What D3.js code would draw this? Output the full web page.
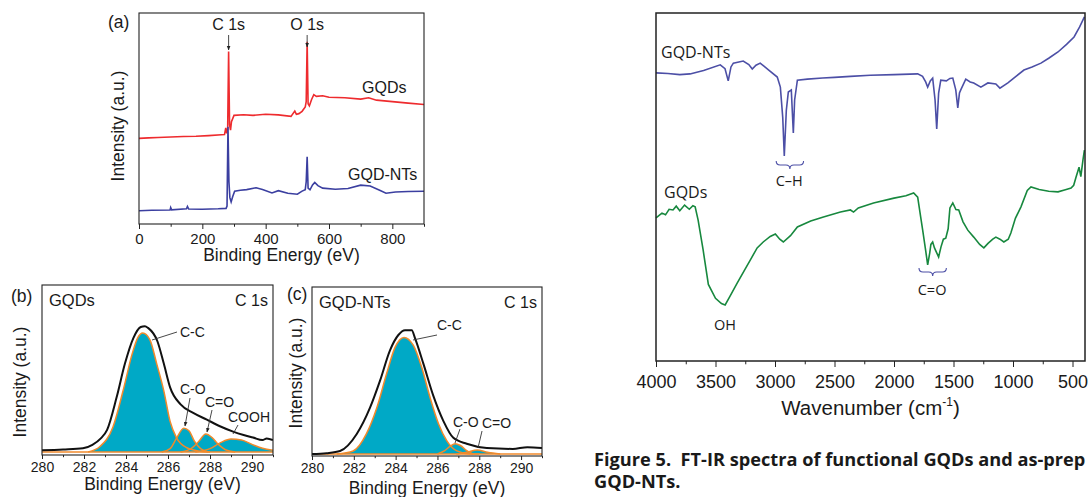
<!DOCTYPE html>
<html>
<head>
<meta charset="utf-8">
<script src="https://cdn.jsdelivr.net/npm/d3@7"></script>
<style>
  body { margin: 0; background: #fff; }
  svg { display: block; }
  text { font-family: "Liberation Sans", Arial, sans-serif; fill: #1a1a1a; }
</style>
</head>
<body>
<svg id="fig" width="1088" height="497"></svg>
<script>
// ---- (a) XPS survey, [binding energy eV, intensity a.u.]
const surveyGQDs = [
  [0,40.6],[30,40.8],[60,41.0],[100,41.2],[140,41.5],[180,41.6],[220,41.9],[260,42.3],[270,42.4],
  [274,45.5],[277,43],[280,45],[283,81.7],[286,47],[289,44.5],[292,48.5],[300,51.5],[330,51.8],
  [360,51.5],[400,52],[440,51.7],[480,51],[492,53.5],[497,52],[505,52.3],[515,53.4],[525,55.5],
  [528,58],[531,86.4],[534,57],[538,56],[545,59],[552,61.3],[560,60.5],[580,60.8],[600,60.1],
  [650,59.8],[700,59.2],[725,59.8],[750,58.7],[800,58],[850,57.3],[900,56.6]
];
const surveyNTs = [
  [0,6.3],[40,6.5],[98,6.6],[100,7.8],[103,6.7],[150,7.2],[153,8.3],[157,7.1],[200,7.0],[250,7.2],
  [275,7.4],[278,8.5],[281,46.1],[284,20],[287,12.5],[291,10.5],[296,13],[302,15.5],[320,16],
  [340,16.3],[370,17.2],[390,16.4],[420,14.7],[440,15.8],[470,14.6],[500,14.1],[515,15.6],
  [525,16.3],[528,20],[531,31.9],[534,17],[540,16.2],[548,18.5],[555,19.7],[565,18.2],[580,17],
  [620,16.5],[660,16.8],[700,18.4],[730,18],[760,16],[780,14.6],[810,15.2],[850,15.4],[900,15.5]
];
const surveyTicks = [0, 200, 400, 600, 800];
const surveyMinor = [100, 300, 500, 700, 900];

// ---- (b) C 1s of GQDs
const gqdEnvelope = [
  [280,0.01],[281,0.015],[281.95,0.022],[282.4,0.042],[282.8,0.08],[283.1,0.13],[283.55,0.32],
  [283.95,0.52],[284.35,0.67],[284.7,0.735],[284.9,0.74],[285.05,0.73],[285.5,0.65],[285.8,0.52],
  [286.1,0.38],[286.6,0.28],[287.2,0.23],[287.85,0.19],[288.5,0.15],[289.1,0.12],[289.6,0.1],
  [290.05,0.085],[290.5,0.07],[290.7,0.08],[291,0.07]
];
const gqdCC = [
  [282.2,0],[282.76,0.032],[283.38,0.147],[283.86,0.36],[284.3,0.58],[284.55,0.67],[284.8,0.70],
  [285.14,0.66],[285.46,0.52],[285.8,0.36],[286.1,0.18],[286.4,0.085],[286.9,0.025],[287.5,0.005],[288,0]
];
const gqdCO = [[285.7,0],[286.1,0.02],[286.4,0.08],[286.75,0.14],[287.0,0.125],[287.25,0.065],[287.55,0.02],[287.9,0]];
const gqdCdO = [[286.6,0],[287.1,0.02],[287.45,0.06],[287.8,0.106],[288.1,0.085],[288.4,0.045],[288.8,0.01],[289.2,0]];
const gqdCOOH = [[287.3,0],[288.0,0.02],[288.5,0.055],[289.0,0.076],[289.5,0.07],[290.0,0.045],[290.5,0.022],[291,0.01]];

// ---- (c) C 1s of GQD-NTs
const ntEnvelope = [
  [280,0],[280.7,0.005],[281.34,0.018],[282.14,0.118],[282.78,0.274],[283.25,0.43],[283.73,0.61],
  [284.13,0.70],[284.45,0.728],[284.77,0.728],[284.93,0.68],[285.33,0.53],[285.8,0.343],[286.28,0.195],
  [286.76,0.095],[287.4,0.06],[288.36,0.035],[289.6,0.03],[290.3,0.04],[291,0.035]
];
const ntCC = [
  [281.18,0],[281.97,0.018],[282.6,0.118],[283.1,0.272],[283.57,0.473],[283.97,0.627],[284.4,0.686],
  [284.85,0.639],[285.25,0.509],[285.65,0.331],[286.05,0.178],[286.45,0.077],[286.93,0.018],[287.57,0],[288,0]
];
const ntCO = [[286.0,0],[286.35,0.02],[286.6,0.045],[286.85,0.061],[287.1,0.05],[287.4,0.02],[287.7,0]];
const ntCdO = [[286.9,0],[287.4,0.01],[287.9,0.024],[288.4,0.01],[289.0,0]];
const c1sTicks = [280, 282, 284, 286, 288, 290];
const c1sMinor = [281, 283, 285, 287, 289, 291];

// ---- FT-IR, [wavenumber cm-1, transmittance a.u.]
const irNTs = [
  [4000,82.8],[3900,82.6],[3800,82.3],[3714,82.5],[3600,83.5],[3460,85.1],[3420,84],[3393,80.5],
  [3370,84.5],[3350,85.6],[3267,86.2],[3220,85.2],[3191,83.9],[3160,85],[3124,85.6],[3050,83.5],
  [2981,81.6],[2955,78.7],[2935,70],[2922,58.9],[2905,72],[2888,77.3],[2863,77.9],[2855,72],
  [2846,65.5],[2835,75],[2812,80.7],[2728,81],[2600,81.3],[2500,81.5],[2366,81.8],[2200,82.1],
  [2000,82.3],[1801,82.5],[1760,81.8],[1734,80.2],[1717,78.7],[1695,80.5],[1675,81.3],[1655,75],
  [1641,66.7],[1625,77],[1607,80.7],[1560,80.5],[1530,81.2],[1506,81.3],[1481,77.9],[1464,72.7],
  [1450,77],[1439,77.9],[1397,81],[1360,80.2],[1330,79.9],[1270,78.7],[1211,79.9],[1144,79.6],
  [1110,78.4],[1043,79.9],[975,81.8],[908,83.6],[840,84.5],[765,85.6],[700,87],[622,88.8],
  [550,91],[487,93.1],[440,96],[412,98],[400,98.9]
];
const irGQDs = [
  [4000,41.1],[3950,42.5],[3920,42],[3890,43.6],[3857,43.4],[3830,44.5],[3800,43.2],[3760,44.8],
  [3720,43.6],[3690,44.6],[3671,44.3],[3646,40.5],[3604,31.9],[3560,22],[3500,18],[3450,16.5],
  [3419,16.1],[3380,18.5],[3318,22.4],[3250,26.5],[3208,29],[3150,32.5],[3099,34.2],[3040,35.8],
  [2997,36.5],[2960,35],[2930,34.2],[2870,36],[2812,38.5],[2700,40.2],[2593,41.4],[2450,42.8],
  [2366,43.4],[2340,42.8],[2300,44],[2172,45.4],[2000,46.8],[1900,47.5],[1835,48.3],[1801,47.1],
  [1776,41.4],[1759,37.6],[1735,32],[1717,27.6],[1700,31],[1690,33.5],[1675,34.2],[1660,32.5],
  [1640,31],[1625,29.9],[1605,32.8],[1585,35],[1565,35.3],[1545,38],[1530,44],[1506,45.4],
  [1480,43.5],[1456,43.4],[1420,40],[1380,37.6],[1330,35.6],[1280,33.5],[1245,32.5],[1210,33.8],
  [1170,35],[1144,35.6],[1110,35],[1077,34.2],[1040,35],[1018,36.8],[980,41],[933,44.3],[880,49],
  [849,50],[780,49.3],[700,48.8],[622,48.6],[560,49.2],[512,49.7],[490,50.5],[470,52.9],[445,55.7],
  [430,53],[412,57.8],[400,60.6]
];
const irTicks = [4000, 3500, 3000, 2500, 2000, 1500, 1000, 500];
const irMinor = [3750, 3250, 2750, 2250, 1750, 1250, 750];

const RED = "#ee2b2e", SBLUE = "#3b3fa0", IRBLUE = "#4c4fa6", GREEN = "#17883e";
const CYAN = "#00a9c6", ORANGE = "#f08a2c";

const svg = d3.select("#fig");
svg.append("defs").append("marker")
  .attr("id", "arr").attr("viewBox", "0 0 10 10").attr("refX", 9).attr("refY", 5)
  .attr("markerWidth", 5).attr("markerHeight", 5).attr("orient", "auto-start-reverse")
  .append("path").attr("d", "M0,1 L10,5 L0,9 z").attr("fill", "#222");

function bottomAxis(g, x, major, minor, y, size, pad, fs) {
  const ax = g.append("g").attr("transform", `translate(0,${y})`)
    .call(d3.axisBottom(x).tickValues(major).tickSize(size).tickPadding(pad).tickFormat(d3.format("d")));
  ax.select(".domain").remove();
  ax.selectAll("line").attr("stroke", "#222");
  ax.selectAll("text").style("font-size", fs + "px").attr("fill", "#1a1a1a");
  const mn = g.append("g").attr("transform", `translate(0,${y})`)
    .call(d3.axisBottom(x).tickValues(minor).tickSize(size * 0.55).tickFormat(""));
  mn.select(".domain").remove();
  mn.selectAll("line").attr("stroke", "#222");
}
function frame(g, b, w) {
  g.append("rect").attr("x", b.x0).attr("y", b.y0)
    .attr("width", b.x1 - b.x0).attr("height", b.y1 - b.y0)
    .attr("fill", "none").attr("stroke", "#222").attr("stroke-width", w || 1.1);
}
function label(g, x, y, t, fs, anchor, rot) {
  const el = g.append("text").attr("font-size", fs).attr("text-anchor", anchor || "start").text(t);
  if (rot) el.attr("transform", `translate(${x},${y}) rotate(-90)`).attr("dy", "0.35em");
  else el.attr("x", x).attr("y", y);
  return el;
}
function leader(g, x1, y1, x2, y2, arrow) {
  const l = g.append("line").attr("x1", x1).attr("y1", y1).attr("x2", x2).attr("y2", y2)
    .attr("stroke", "#333").attr("stroke-width", 0.9);
  if (arrow) l.attr("marker-end", "url(#arr)");
}

// ================= (a) survey =================
{
  const b = { x0: 139, x1: 424, y0: 13, y1: 224 };
  const g = svg.append("g");
  const x = d3.scaleLinear().domain([0, 900]).range([b.x0, b.x1]);
  const y = d3.scaleLinear().domain([0, 100]).range([b.y1, b.y0]);
  const line = d3.line().x(d => x(d[0])).y(d => y(d[1]));
  g.append("path").datum(surveyGQDs).attr("d", line).attr("fill", "none").attr("stroke", RED).attr("stroke-width", 1.6);
  g.append("path").datum(surveyNTs).attr("d", line).attr("fill", "none").attr("stroke", SBLUE).attr("stroke-width", 1.6);
  frame(g, b);
  bottomAxis(g, x, surveyTicks, surveyMinor, b.y1, 5, 4, 15);
  label(g, (b.x0 + b.x1) / 2, 261, "Binding Energy (eV)", 17.5, "middle");
  label(g, 118, 126, "Intensity (a.u.)", 17.5, "middle", true);
  label(g, 108, 28, "(a)", 17.5);
  label(g, x(283), 30, "C 1s", 16, "middle");
  label(g, x(531), 30, "O 1s", 16, "middle");
  leader(g, x(283), 35, x(283), 50, true);
  leader(g, x(531), 35, x(531), 47, true);
  label(g, 362, 93, "GQDs", 16);
  label(g, 348, 180, "GQD-NTs", 16);
}

// ================= C 1s panels =================
function c1sPanel(b, env, comps, opt) {
  const g = svg.append("g");
  const x = d3.scaleLinear().domain([280, 291]).range([b.x0, b.x1]);
  const y = d3.scaleLinear().domain([0, 1]).range([b.zero, b.zero - 170]);
  const clip = "clip" + opt.id;
  g.append("clipPath").attr("id", clip).append("rect")
    .attr("x", b.x0).attr("y", b.y0).attr("width", b.x1 - b.x0).attr("height", b.y1 - b.y0);
  const pg = g.append("g").attr("clip-path", `url(#${clip})`);
  const area = d3.area().curve(d3.curveMonotoneX).x(d => x(d[0])).y0(y(0)).y1(d => y(d[1]));
  const line = d3.line().curve(d3.curveMonotoneX).x(d => x(d[0])).y(d => y(d[1]));
  comps.forEach(c => pg.append("path").datum(c).attr("d", area).attr("fill", CYAN));
  pg.append("line").attr("x1", x(280)).attr("x2", x(291)).attr("y1", y(0)).attr("y2", y(0))
    .attr("stroke", ORANGE).attr("stroke-width", 1.5);
  comps.forEach(c => pg.append("path").datum(c).attr("d", line).attr("fill", "none")
    .attr("stroke", ORANGE).attr("stroke-width", 1.5));
  pg.append("path").datum(env).attr("d", line).attr("fill", "none").attr("stroke", "#111").attr("stroke-width", 2);
  frame(g, b);
  bottomAxis(g, x, c1sTicks, c1sMinor, b.y1, 4, 3, 14);
  label(g, (b.x0 + b.x1) / 2 + opt.tdx, opt.ty, "Binding Energy (eV)", 17.5, "middle");
  label(g, opt.yl, opt.yc, "Intensity (a.u.)", 17.5, "middle", true);
  label(g, opt.px, opt.py, opt.panel, 17.5);
  label(g, b.x0 + 7, b.y0 + 21, opt.name, 16.5);
  label(g, b.x1 - 5, b.y0 + 21, "C 1s", 16, "end");
  opt.notes.forEach(n => {
    label(g, n.tx, n.ty, n.t, 14);
    leader(g, n.l[0], n.l[1], n.l[2], n.l[3], n.arrow);
  });
}

c1sPanel({ x0: 42, x1: 273, y0: 285, y1: 455, zero: 452 },
  gqdEnvelope, [gqdCC, gqdCO, gqdCdO, gqdCOOH],
  { id: "b", panel: "(b)", name: "GQDs", px: 11, py: 302, tdx: 5, ty: 490, yl: 20, yc: 382,
    notes: [
      { t: "C-C", tx: 180, ty: 337, l: [152, 340, 177, 332] },
      { t: "C-O", tx: 180, ty: 394, l: [190, 398, 185, 426], arrow: true },
      { t: "C=O", tx: 205, ty: 407, l: [212, 410, 207, 432], arrow: true },
      { t: "COOH", tx: 228, ty: 422, l: [238, 425, 233, 434] }
    ] });

c1sPanel({ x0: 312, x1: 542, y0: 287, y1: 456, zero: 454 },
  ntEnvelope, [ntCC, ntCO, ntCdO],
  { id: "c", panel: "(c)", name: "GQD-NTs", px: 287, py: 300, tdx: 0, ty: 494, yl: 296, yc: 373,
    notes: [
      { t: "C-C", tx: 437, ty: 330, l: [413, 340, 437, 335] },
      { t: "C-O", tx: 453, ty: 427, l: [460, 429, 455, 443] },
      { t: "C=O", tx: 482, ty: 428, l: [482, 431, 478, 448] }
    ] });

// ================= FT-IR =================
{
  const b = { x0: 656, x1: 1085, y0: 13, y1: 361 };
  const g = svg.append("g");
  const x = d3.scaleLinear().domain([4000, 395]).range([b.x0, b.x1]);
  const y = d3.scaleLinear().domain([0, 100]).range([b.y1, b.y0]);
  const line = d3.line().x(d => x(d[0])).y(d => y(d[1]));
  g.append("path").datum(irNTs).attr("d", line).attr("fill", "none").attr("stroke", IRBLUE).attr("stroke-width", 1.6);
  g.append("path").datum(irGQDs).attr("d", line).attr("fill", "none").attr("stroke", GREEN).attr("stroke-width", 1.6);
  frame(g, b, 1.5);
  bottomAxis(g, x, irTicks, irMinor, b.y1, 6, 8, 18);
  const t = g.append("text").attr("x", (b.x0 + b.x1) / 2).attr("y", 415)
    .attr("text-anchor", "middle").attr("font-size", 20.5);
  t.append("tspan").text("Wavenumber (cm");
  t.append("tspan").attr("font-size", 12).attr("dy", -9).text("-1");
  t.append("tspan").attr("dy", 9).text(")");

  const f = "'Open Sans', 'Noto Sans', sans-serif";
  label(g, 661, 58, "GQD-NTs", 16).style("font-family", f);
  label(g, 664, 198, "GQDs", 16).style("font-family", f);
  label(g, x(2880), 186, "C\u2013H", 14.5, "middle").style("font-family", f);
  label(g, x(3420), 330, "OH", 14.5, "middle").style("font-family", f);
  label(g, x(1680), 295, "C=O", 14.5, "middle").style("font-family", f);
  // braces under the marked bands
  const brace = (xa, xb, yt) => {
    const xm = (xa + xb) / 2, h = 8, r = 4;
    return `M${xa},${yt} Q${xa},${yt + h / 2} ${xa + r},${yt + h / 2} L${xm - r},${yt + h / 2} Q${xm},${yt + h / 2} ${xm},${yt + h}` +
           `M${xb},${yt} Q${xb},${yt + h / 2} ${xb - r},${yt + h / 2} L${xm + r},${yt + h / 2} Q${xm},${yt + h / 2} ${xm},${yt + h}`;
  };
  g.append("path").attr("d", brace(x(2990), x(2760), 161)).attr("fill", "none").attr("stroke", IRBLUE).attr("stroke-width", 1.1);
  g.append("path").attr("d", brace(x(1790), x(1560), 268)).attr("fill", "none").attr("stroke", IRBLUE).attr("stroke-width", 1.1);

  // caption, cut at the picture edge as in the source
  const cap = svg.append("text").attr("font-size", 18.2).attr("font-weight", "bold")
    .style("font-family", "'Open Sans', 'Noto Sans', sans-serif").attr("fill", "#231f20");
  cap.append("tspan").attr("x", 594).attr("y", 466).attr("xml:space", "preserve")
    .text("Figure 5.\u00a0 FT-IR spectra of functional GQDs and as-prep");
  cap.append("tspan").attr("x", 594).attr("y", 488).text("GQD-NTs.");
}
</script>
</body>
</html>
